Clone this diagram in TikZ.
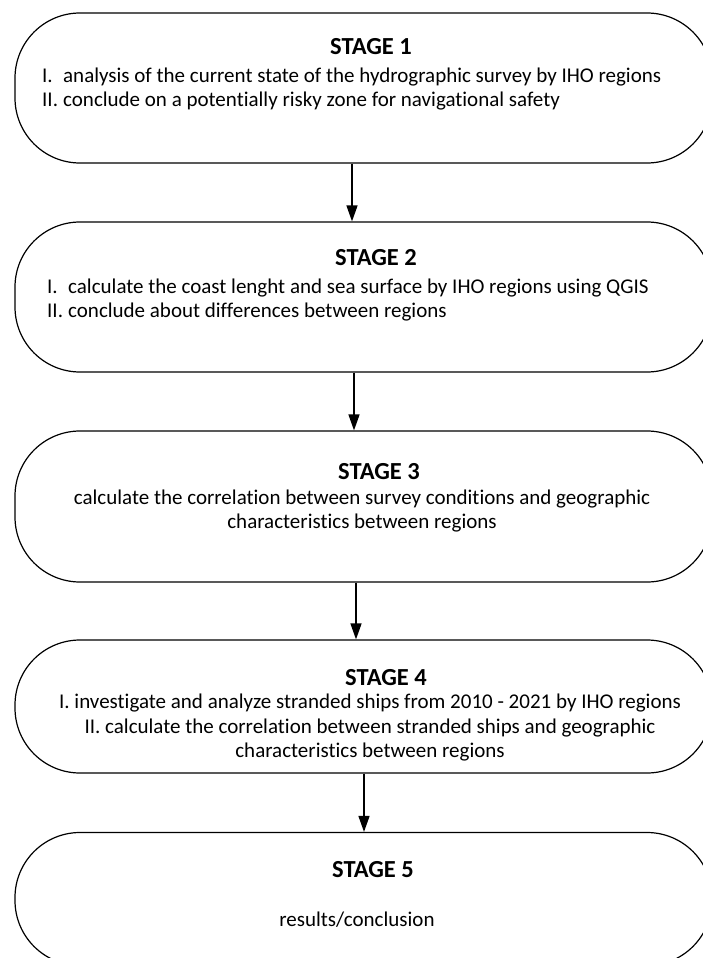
\documentclass[tikz,border=0pt]{standalone}
\usepackage{fontspec}
\setmainfont{Carlito}[Ligatures=NoCommon]
\usetikzlibrary{arrows.meta}

\tikzset{
  stagebox/.style={draw, line width=1.2pt, rounded corners=65pt, minimum width=697pt, inner sep=0pt},
  stagetitle/.style={font=\fontsize{24.5}{28}\selectfont\bfseries, inner sep=0pt},
  stagetext/.style={font=\fontsize{21}{24.5}\selectfont, inner sep=0pt},
  flow/.style={-{Triangle[width=11pt,length=16pt]}, line width=1.4pt},
}

\begin{document}
\begin{tikzpicture}[x=1pt,y=1pt,yscale=-1,xscale=1]
\useasboundingbox (0,0) rectangle (703,958);

%Stage boxes
\node[stagebox, minimum height=150pt] (s1) at (363.5,88) {};
\node[stagebox, minimum height=150pt] (s2) at (363.5,297) {};
\node[stagebox, minimum height=151pt] (s3) at (363.5,506.5) {};
\node[stagebox, minimum height=133pt] (s4) at (363.5,706.5) {};
\node[stagebox, minimum height=133pt] (s5) at (363.5,899) {};

%Titles
\node[stagetitle] (t1) at (371,47) {STAGE 1};
\node[stagetitle] (t2) at (376,258) {STAGE 2};
\node[stagetitle] (t3) at (379,472) {STAGE 3};
\node[stagetitle] (t4) at (386,678) {STAGE 4};
\node[stagetitle] (t5) at (373,870) {STAGE 5};

%Text
\node[stagetext, anchor=west, align=left] (d1) at (42,89) {\makebox[21pt][l]{I.}analysis of the current state of the hydrographic survey by IHO regions\\\makebox[21pt][l]{II.}conclude on a potentially risky zone for navigational safety};
\node[stagetext, anchor=west, align=left] (d2) at (47,300) {\makebox[21pt][l]{I.}calculate the coast lenght and sea surface by IHO regions using QGIS\\\makebox[21pt][l]{II.}conclude about differences between regions};
\node[stagetext, align=center] (d3) at (362,511) {calculate the correlation between survey conditions and geographic\\characteristics between regions};
\node[stagetext, align=center] (d4) at (370,728) {I. investigate and analyze stranded ships from 2010 - 2021 by IHO regions\\II. calculate the correlation between stranded ships and geographic\\characteristics between regions};
\node[stagetext] (d5) at (357,920) {results/conclusion};

%Arrows
\draw[flow] ([xshift=-11.5pt]s1.south) -- ([xshift=-11.5pt]s2.north);
\draw[flow] ([xshift=-9.5pt]s2.south) -- ([xshift=-9.5pt]s3.north);
\draw[flow] ([xshift=-7.5pt]s3.south) -- ([xshift=-7.5pt]s4.north);
\draw[flow] ([xshift=0.5pt]s4.south) -- ([xshift=0.5pt]s5.north);

\end{tikzpicture}
\end{document}
